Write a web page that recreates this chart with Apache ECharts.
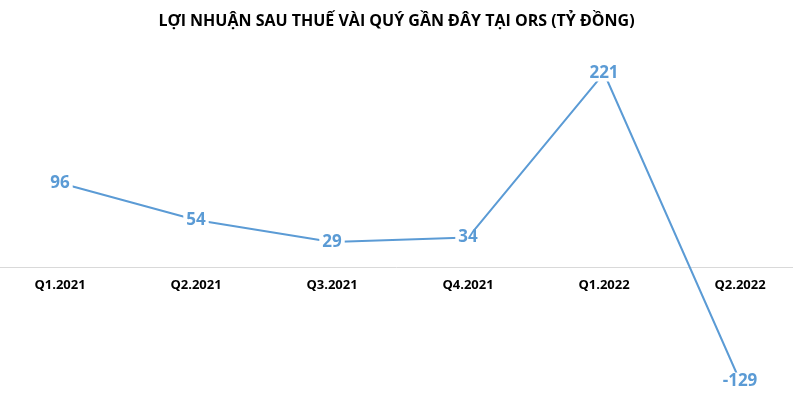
<!DOCTYPE html>
<html><head><meta charset="utf-8">
<script src="https://cdn.jsdelivr.net/npm/echarts@6/dist/echarts.min.js"></script>
<style>html,body{margin:0;padding:0;background:#fff}#c{width:793px;height:407px}</style>
</head><body><div id="c"></div>
<script>
const categories = ['Q1.2021','Q2.2021','Q3.2021','Q4.2021','Q1.2022','Q2.2022'];
const profit = [96, 54, 29, 34, 221, -129];
const titleText = 'LỢI NHUẬN SAU THUẾ VÀI QUÝ GẦN ĐÂY TẠI ORS (TỶ ĐỒNG)';
const chart = echarts.init(document.getElementById('c'));
chart.setOption({
  backgroundColor: '#fff',
  animation: false,
  title: {text: titleText, left: 'center', top: 8,
    textStyle: {fontFamily: 'Open Sans', fontWeight: 'bold', fontSize: 16, color: '#000'}},
  grid: {left: -8, right: -15, top: 47.5, bottom: 7.5, containLabel: false, outerBoundsMode: 'none'},
  xAxis: {type: 'category', data: categories, boundaryGap: true, position: 'bottom', offset: -132,
    axisLine: {onZero: false, lineStyle: {color: '#d9d9d9', width: 1}},
    axisTick: {show: false},
    axisLabel: {color: '#000', fontFamily: 'Open Sans', fontWeight: 'bold', fontSize: 13, margin: 11}},
  yAxis: {type: 'value', min: -150, max: 250, show: false, splitLine: {show: false}},
  series: [{type: 'line', data: profit, symbol: 'circle', symbolSize: 0.1,
    itemStyle: {color: '#5b9bd5'},
    lineStyle: {color: '#5b9bd5', width: 2},
    label: {show: true, position: 'inside', color: '#5b9bd5', fontFamily: 'Open Sans',
      fontWeight: 'bold', fontSize: 17, backgroundColor: '#fff', padding: [0, 3]}
  }]
});
</script></body></html>
